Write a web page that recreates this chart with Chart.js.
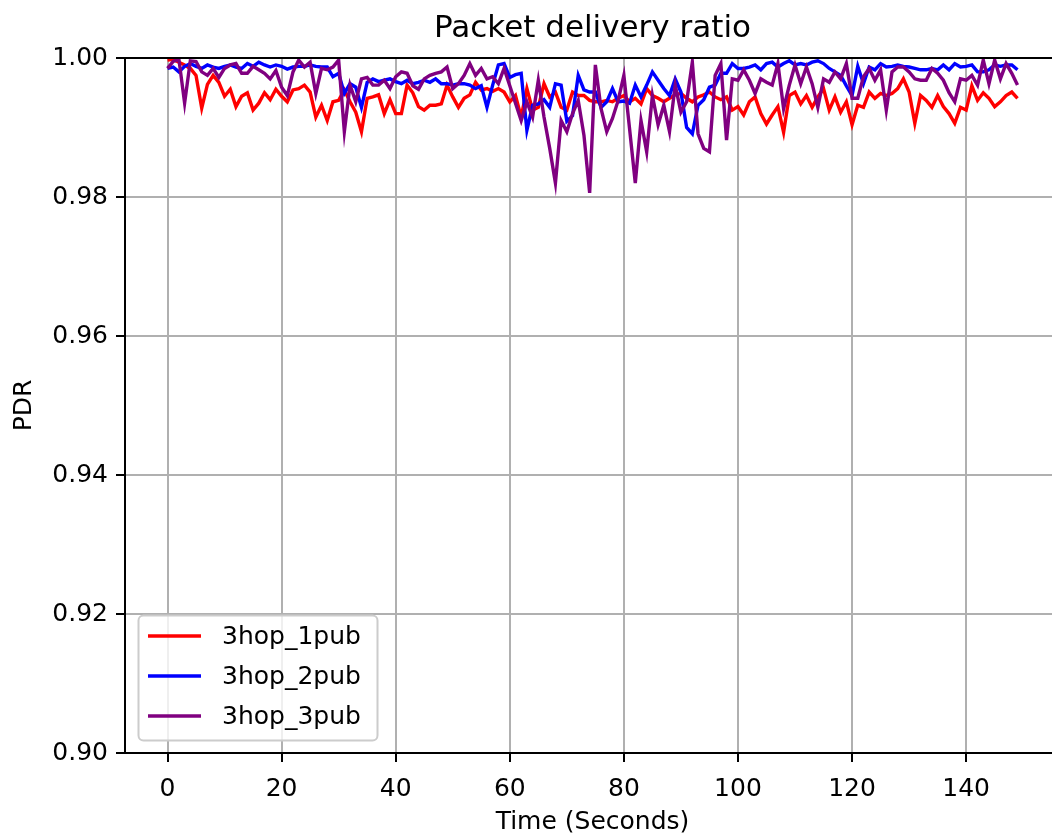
<!DOCTYPE html>
<html>
<head>
<meta charset="utf-8">
<title>Packet delivery ratio</title>
<script src="https://cdn.jsdelivr.net/npm/chart.js@4/dist/chart.umd.min.js"></script>
<style>
  html, body { margin: 0; padding: 0; background: #fff; overflow: hidden; }
  #wrap { width: 1052px; height: 839px; overflow: hidden; }
</style>
</head>
<body>
<div id="wrap"><canvas id="pdrChart" width="1070" height="839"></canvas></div>
<script>
// x axis: one sample per second
const seconds = Array.from({ length: 150 }, (_, i) => i);
const xTicks = [0, 20, 40, 60, 80, 100, 120, 140];
const yTicks = [0.90, 0.92, 0.94, 0.96, 0.98, 1.00];

const seriesNames = ["3hop_1pub", "3hop_2pub", "3hop_3pub"];
const seriesColors = ["#ff0000", "#0000ff", "#800080"];

// values
const pdr1pub = [
  0.9997, 0.9998, 0.9994, 0.9990, 0.9985, 0.9975, 0.9928, 0.9962, 0.9975, 0.9965,
  0.9945, 0.9955, 0.9930, 0.9945, 0.9950, 0.9925, 0.9935, 0.9950, 0.9940, 0.9955,
  0.9945, 0.9937, 0.9954, 0.9956, 0.9961, 0.9951, 0.9915, 0.9932, 0.9910, 0.9937,
  0.9939, 0.9954, 0.9937, 0.9922, 0.9894, 0.9942, 0.9944, 0.9947, 0.9920, 0.9940,
  0.9920, 0.9920, 0.9961, 0.9950, 0.9930, 0.9925, 0.9932, 0.9932, 0.9934, 0.9961,
  0.9944, 0.9929, 0.9942, 0.9947, 0.9965, 0.9954, 0.9956, 0.9952, 0.9956, 0.9951,
  0.9937, 0.9946, 0.9915, 0.9956, 0.9925, 0.9929, 0.9963, 0.9944, 0.9951, 0.9929,
  0.9925, 0.9951, 0.9946, 0.9946, 0.9939, 0.9937, 0.9937, 0.9939, 0.9937, 0.9942,
  0.9946, 0.9937, 0.9942, 0.9934, 0.9956, 0.9946, 0.9942, 0.9937, 0.9942, 0.9947,
  0.9949, 0.9942, 0.9937, 0.9944, 0.9947, 0.9951, 0.9944, 0.9940, 0.9944, 0.9925,
  0.9930, 0.9918, 0.9937, 0.9944, 0.9920, 0.9905, 0.9918, 0.9930, 0.9893, 0.9946,
  0.9951, 0.9934, 0.9946, 0.9929, 0.9944, 0.9956, 0.9925, 0.9944, 0.9922, 0.9937,
  0.9904, 0.9932, 0.9929, 0.9951, 0.9942, 0.9949, 0.9946, 0.9949, 0.9956, 0.9970,
  0.9951, 0.9906, 0.9946, 0.9939, 0.9929, 0.9946, 0.9930, 0.9920, 0.9906, 0.9929,
  0.9925, 0.9960, 0.9939, 0.9950, 0.9942, 0.9930, 0.9937, 0.9946, 0.9951, 0.9942
];
const pdr2pub = [
  0.9985, 0.9987, 0.9980, 0.9988, 0.9992, 0.9988, 0.9985, 0.9990, 0.9987, 0.9985,
  0.9988, 0.9990, 0.9987, 0.9985, 0.9992, 0.9988, 0.9994, 0.9990, 0.9987, 0.9990,
  0.9988, 0.9984, 0.9987, 0.9988, 0.9988, 0.9990, 0.9988, 0.9987, 0.9987, 0.9973,
  0.9978, 0.9949, 0.9963, 0.9958, 0.9929, 0.9965, 0.9970, 0.9966, 0.9968, 0.9970,
  0.9966, 0.9963, 0.9968, 0.9963, 0.9965, 0.9968, 0.9965, 0.9970, 0.9963, 0.9963,
  0.9961, 0.9963, 0.9963, 0.9961, 0.9956, 0.9960, 0.9929, 0.9961, 0.9990, 0.9992,
  0.9972, 0.9976, 0.9978, 0.9896, 0.9932, 0.9934, 0.9940, 0.9929, 0.9963, 0.9961,
  0.9909, 0.9917, 0.9975, 0.9954, 0.9951, 0.9951, 0.9929, 0.9937, 0.9956, 0.9937,
  0.9938, 0.9935, 0.9961, 0.9944, 0.9961, 0.9980, 0.9968, 0.9956, 0.9946, 0.9970,
  0.9951, 0.9900, 0.9891, 0.9932, 0.9940, 0.9958, 0.9961, 0.9978, 0.9978, 0.9992,
  0.9985, 0.9985, 0.9987, 0.9990, 0.9983, 0.9992, 0.9994, 0.9987, 0.9992, 0.9996,
  0.9990, 0.9992, 0.9990, 0.9994, 0.9996, 0.9992, 0.9985, 0.9980, 0.9975, 0.9960,
  0.9946, 0.9988, 0.9963, 0.9987, 0.9983, 0.9992, 0.9987, 0.9988, 0.9990, 0.9988,
  0.9987, 0.9985, 0.9983, 0.9983, 0.9985, 0.9983, 0.9990, 0.9983, 0.9992, 0.9987,
  0.9988, 0.9990, 0.9980, 0.9980, 0.9983, 0.9990, 0.9988, 0.9990, 0.9990, 0.9983
];
const pdr3pub = [
  0.9985, 0.9995, 0.9998, 0.9935, 0.9996, 0.9995, 0.9980, 0.9975, 0.9985, 0.9972,
  0.9985, 0.9990, 0.9992, 0.9978, 0.9978, 0.9988, 0.9983, 0.9978, 0.9970, 0.9982,
  0.9958, 0.9946, 0.9980, 0.9997, 0.9987, 0.9994, 0.9949, 0.9985, 0.9983, 0.9987,
  0.9997, 0.9894, 0.9961, 0.9937, 0.9970, 0.9972, 0.9961, 0.9961, 0.9968, 0.9956,
  0.9973, 0.9980, 0.9978, 0.9960, 0.9955, 0.9970, 0.9975, 0.9978, 0.9980, 0.9987,
  0.9956, 0.9963, 0.9975, 0.9992, 0.9975, 0.9985, 0.9970, 0.9973, 0.9963, 0.9985,
  0.9960, 0.9935, 0.9910, 0.9937, 0.9915, 0.9968, 0.9915, 0.9870, 0.9820, 0.9910,
  0.9894, 0.9920, 0.9939, 0.9889, 0.9806, 0.9990, 0.9927, 0.9894, 0.9913, 0.9939,
  0.9975, 0.9898, 0.9820, 0.9910, 0.9865, 0.9946, 0.9904, 0.9932, 0.9894, 0.9961,
  0.9922, 0.9937, 0.9994, 0.9891, 0.9870, 0.9865, 0.9975, 0.9992, 0.9882, 0.9970,
  0.9968, 0.9983, 0.9968, 0.9949, 0.9970, 0.9965, 0.9961, 0.9992, 0.9927, 0.9961,
  0.9990, 0.9963, 0.9987, 0.9963, 0.9929, 0.9970, 0.9965, 0.9980, 0.9970, 0.9992,
  0.9942, 0.9942, 0.9973, 0.9985, 0.9968, 0.9983, 0.9925, 0.9980, 0.9987, 0.9987,
  0.9980, 0.9970, 0.9968, 0.9968, 0.9985, 0.9978, 0.9968, 0.9950, 0.9937, 0.9970,
  0.9968, 0.9975, 0.9961, 0.9997, 0.9963, 0.9997, 0.9970, 0.9992, 0.9978, 0.9961
];

Chart.defaults.font.family = "'DejaVu Sans', sans-serif";
Chart.defaults.color = "#000";

const toPoints = (values) => values.map((v, i) => ({ x: seconds[i], y: v }));

// title, frame and the in-plot legend
const decorations = {
  id: "decorations",
  afterDraw(chart) {
    const { ctx, chartArea: a } = chart;
    ctx.save();
    ctx.strokeStyle = "#000";
    ctx.lineWidth = 2;
    ctx.strokeRect(a.left, a.top, a.right - a.left, a.bottom - a.top);

    ctx.fillStyle = "#000";
    ctx.font = "31px 'DejaVu Sans'";
    ctx.textAlign = "center";
    ctx.textBaseline = "alphabetic";
    ctx.fillText("Packet delivery ratio", (a.left + a.right) / 2, 37);

    // legend box
    ctx.beginPath();
    ctx.roundRect(138.5, 615.5, 239, 125, 5);
    ctx.fillStyle = "rgba(255,255,255,0.8)";
    ctx.fill();
    ctx.strokeStyle = "#cccccc";
    ctx.lineWidth = 2;
    ctx.stroke();

    ctx.font = "25px 'DejaVu Sans'";
    ctx.textAlign = "left";
    ctx.textBaseline = "middle";
    seriesNames.forEach((name, i) => {
      const y = 636 + i * 40;
      ctx.strokeStyle = seriesColors[i];
      ctx.lineWidth = 3.4;
      ctx.beginPath();
      ctx.moveTo(148, y);
      ctx.lineTo(201, y);
      ctx.stroke();
      ctx.fillStyle = "#000";
      ctx.fillText(name, 222, y + 1);
    });
    ctx.restore();
  },
};

const pdrChart = new Chart(document.getElementById("pdrChart"), {
  type: "line",
  data: {
    datasets: [pdr1pub, pdr2pub, pdr3pub].map((values, i) => ({
      label: seriesNames[i],
      data: toPoints(values),
      borderColor: seriesColors[i],
      backgroundColor: seriesColors[i],
      borderWidth: 3.4,
      pointRadius: 0,
      tension: 0,
      fill: false,
      clip: 0,
      order: 3 - i,
    })),
  },
  options: {
    responsive: false,
    animation: false,
    devicePixelRatio: 1,
    layout: { padding: { top: 58, right: 10, left: 0, bottom: 0 } },
    plugins: {
      legend: { display: false },
      title: { display: false },
      tooltip: { enabled: false },
    },
    scales: {
      x: {
        type: "linear",
        min: -7.45,
        max: 156.45,
        afterFit: (scale) => { scale.height = 86; },
        afterBuildTicks: (scale) => { scale.ticks = xTicks.map((v) => ({ value: v })); },
        ticks: {
          includeBounds: false,
          padding: 12,
          maxRotation: 0,
          font: { size: 25 },
          callback: (v) => String(v),
        },
        grid: { color: "#b0b0b0", lineWidth: 2, tickLength: 9, tickColor: "#000", tickWidth: 2 },
        border: { display: false },
        title: {
          display: true,
          text: "Time (Seconds)",
          font: { size: 25 },
          padding: { top: 0, bottom: 2 },
        },
      },
      y: {
        min: 0.9,
        max: 1.0,
        afterFit: (scale) => { scale.width = 125; },
        afterBuildTicks: (scale) => { scale.ticks = yTicks.map((v) => ({ value: v })); },
        ticks: {
          padding: 8,
          font: { size: 25 },
          callback: (v) => Number(v).toFixed(2),
        },
        grid: { color: "#b0b0b0", lineWidth: 2, tickLength: 9, tickColor: "#000", tickWidth: 2 },
        border: { display: false },
        title: {
          display: true,
          text: "PDR",
          font: { size: 25 },
          padding: { top: 9, bottom: 0 },
        },
      },
    },
  },
  plugins: [decorations],
});
</script>
</body>
</html>
